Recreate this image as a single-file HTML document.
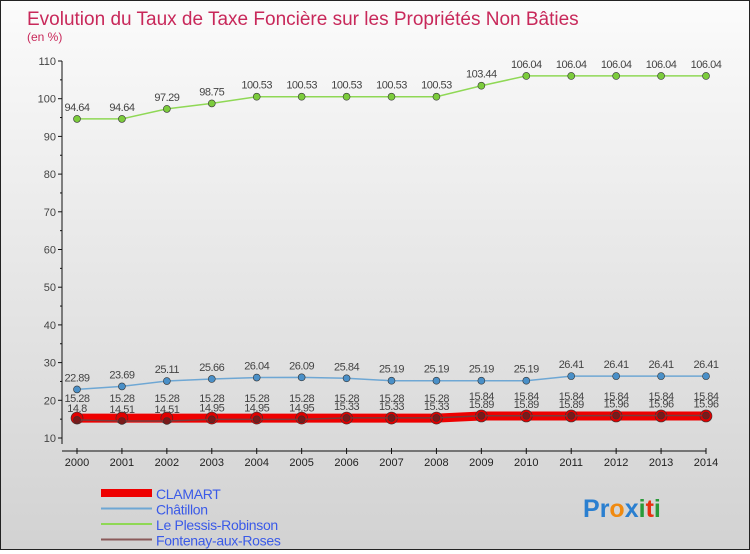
<!DOCTYPE html>
<html><head><meta charset="utf-8"><style>
html,body{margin:0;padding:0}
body{width:750px;height:550px;overflow:hidden;font-family:"Liberation Sans",sans-serif}
#wrap{position:relative;width:748px;height:548px;border:1px solid #222;background:linear-gradient(#fbfbfb,#d2d2d2)}
</style></head><body>
<div id="wrap">
<svg id="chart" width="748" height="548"></svg>
</div>
<script>
const years=[2000,2001,2002,2003,2004,2005,2006,2007,2008,2009,2010,2011,2012,2013,2014];
const yTicks=[10,20,30,40,50,60,70,80,90,100,110];
const clamart=[15.28,15.28,15.28,15.28,15.28,15.28,15.28,15.28,15.28,15.84,15.84,15.84,15.84,15.84,15.84];
const chatillon=[22.89,23.69,25.11,25.66,26.04,26.09,25.84,25.19,25.19,25.19,25.19,26.41,26.41,26.41,26.41];
const plessis=[94.64,94.64,97.29,98.75,100.53,100.53,100.53,100.53,100.53,103.44,106.04,106.04,106.04,106.04,106.04];
const fontenay=[14.8,14.51,14.51,14.95,14.95,14.95,15.33,15.33,15.33,15.89,15.89,15.89,15.96,15.96,15.96];
const names=["CLAMART","Châtillon","Le Plessis-Robinson","Fontenay-aux-Roses"];

const NS="http://www.w3.org/2000/svg";
const svg=document.getElementById('chart');
function mk(t,a,p){const e=document.createElementNS(NS,t);for(const k in a)e.setAttribute(k,a[k]);(p||svg).appendChild(e);return e;}
const X=y=>76+(y-2000)*(629/14);
const Y=v=>437-(v-10)*3.77;

let t=mk('text',{x:26,y:24,fill:'#c8285a','font-size':19});
t.textContent='Evolution du Taux de Taxe Foncière sur les Propriétés Non Bâties';


t=mk('text',{x:26,y:40,fill:'#c8285a','font-size':12});
t.textContent='(en %)';



let ax=mk('line',{x1:61,y1:Y(110),x2:61,y2:Y(10)+6,stroke:'#111'});


ax=mk('line',{x1:61,y1:Y(10)+13,x2:X(2014),y2:Y(10)+13,stroke:'#111'});


yTicks.forEach(v=>{
  mk('line',{x1:57,y1:Y(v),x2:61,y2:Y(v),stroke:'#111'});
  if(v<110) mk('line',{x1:59,y1:Y(v+5),x2:61,y2:Y(v+5),stroke:'#111'});
  const l=mk('text',{x:55,y:Y(v)+4,'text-anchor':'end','font-size':11,fill:'#444'});
  l.textContent=v;
  
  
});
years.forEach(y=>{
  mk('line',{x1:X(y),y1:Y(10)+10,x2:X(y),y2:Y(10)+16,stroke:'#111'});
  const l=mk('text',{x:X(y),y:Y(10)+28,'text-anchor':'middle','font-size':11,fill:'#222'});
  l.textContent=y;
  
  
});

function series(vals,color,w,r,fill,name,labelDy){
  const g=mk('g',{});
  
  
  mk('polyline',{points:vals.map((v,i)=>X(years[i])+','+Y(v)).join(' '),fill:'none',stroke:color,'stroke-width':w},g);
  vals.forEach((v,i)=>{
    const c=mk('circle',{cx:X(years[i]),cy:Y(v),r:r,fill:fill,stroke:'#333','stroke-width':0.6},g);
    
    
    const l=mk('text',{x:X(years[i]),y:Y(v)+labelDy,'text-anchor':'middle','font-size':11,fill:'#444','letter-spacing':'-0.5'},g);
    l.textContent=v;
    
    
  });
}
series(plessis,'#8fd855',1.5,3.5,'#7ccc3c','plessis',-8);
series(chatillon,'#6ea7d4',1.5,3.5,'#4a90c8','chatillon',-8);
series(clamart,'#ee0000',9,6,'#e00000','clamart',-16);
series(fontenay,'#7a3a3a',1.5,3.5,'#7a1a1a','fontenay',-8);

const leg=[["#ee0000",8],["#6ea7d4",2],["#8fd855",2],["#8a5a5a",2]];
names.forEach((n,i)=>{
  const g=mk('g',{});
  
  
  const yy=492+i*15.5;
  mk('line',{x1:100,y1:yy,x2:151,y2:yy,stroke:leg[i][0],'stroke-width':leg[i][1]},g);
  const l=mk('text',{x:155,y:yy+6,'font-size':14,fill:'#3a5ae8','letter-spacing':'-0.3'},g);
  l.textContent=n;
});

const lg=mk('text',{x:582,y:516,'font-size':25,'font-weight':'bold'});


[['P','#2a7fd0'],['r','#2a7fd0'],['o','#f08a10'],['x','#2a7fd0'],['i','#2a9a3a'],['t','#e83010'],['i','#2a9a3a']].forEach(p=>{
  const s=mk('tspan',{fill:p[1]},lg);s.textContent=p[0];
});
</script>
</body></html>
